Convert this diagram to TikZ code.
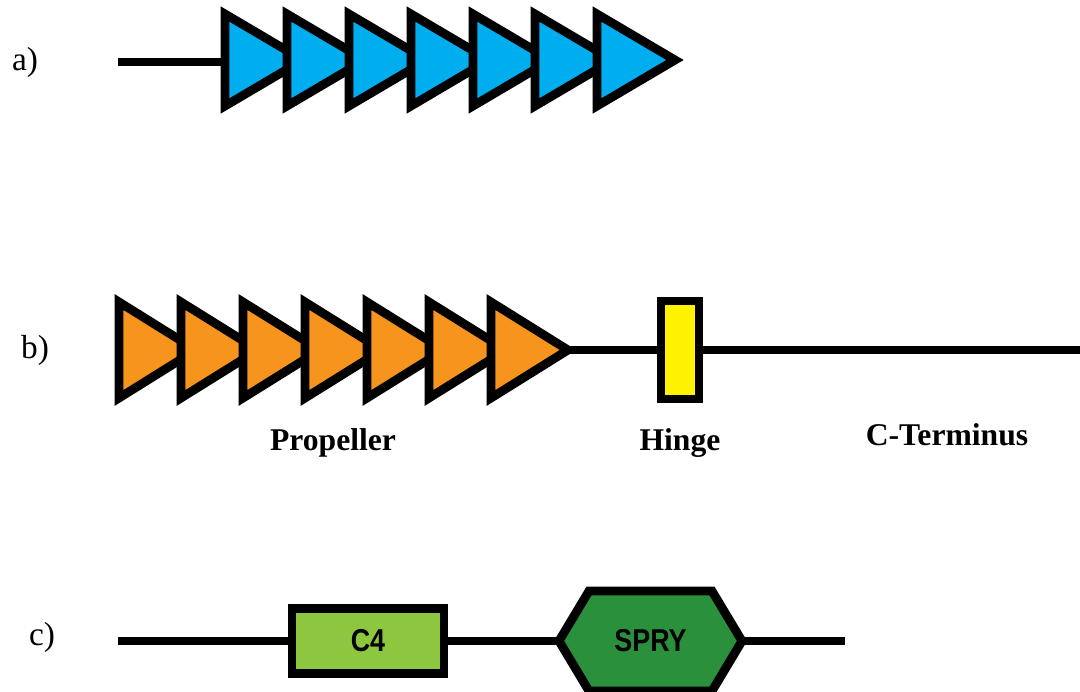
\documentclass[tikz,border=0pt]{standalone}
\usepackage{fontspec}
\setmainfont{Liberation Serif}
\newfontfamily\domfont{Liberation Sans}
\definecolor{bladeblue}{HTML}{00AEEF}
\definecolor{bladeorange}{HTML}{F7941D}
\definecolor{hingeyellow}{HTML}{FFF200}
\definecolor{cfourgreen}{HTML}{8DC63F}
\definecolor{sprygreen}{HTML}{2A903C}
\begin{document}
\begin{tikzpicture}[x=0.02cm,y=-0.02cm,line width=5pt,
	blade/.style={draw=black,line join=miter},
	lbl/.style={font=\fontsize{19}{21}\selectfont},
	part/.style={font=\bfseries\fontsize{18}{20}\selectfont},
	dom/.style={draw,inner sep=0pt,font=\domfont\bfseries\fontsize{18}{20}\selectfont}]
	\useasboundingbox (0,0) rectangle (1080,691);
	% a)
	\node[lbl] (a) at (25,62){a)};
	\coordinate (a0) at (118,62);
	\coordinate (ablade) at (225,62);
	\draw (a0)--(ablade);
	\foreach \x in {225,287,...,597}{
		\draw[blade,fill=bladeblue] (\x,14)--(\x+78,60)--(\x,106)--cycle;
		}
	% b)
	\node[lbl] (b) at (35,350){b)};
	\coordinate (btip) at (568,350);
	\coordinate (bend) at (1080,350);
	\node[dom,fill=hingeyellow,minimum width=0.76cm,minimum height=1.96cm] (hinge) at (680,350){};
	\draw (btip)--(hinge.west);
	\draw (hinge.east)--(bend);
	\foreach \x in {119,181,...,491}{
		\draw[blade,fill=bladeorange] (\x,302)--(\x+77,350)--(\x,398)--cycle;
		}
	\node[part] (prop) at (333,443){Propeller};
	\node[part] (hingelbl) at (680,443){Hinge};
	\node[part] (cterm) at (947,435){C-Terminus};
	% c)
	\node[lbl] (c) at (42,637){c)};
	\coordinate (c0) at (118,641);
	\coordinate (c1) at (845,641);
	\coordinate (spryw) at (559,641);
	\coordinate (sprye) at (742,641);
	\draw (c0)--(sprye)--(c1);
	\node[dom,fill=cfourgreen,minimum width=3.04cm,minimum height=1.3cm] (cfour) at (368,641){\scalebox{0.85}[1]{C4}};
	\draw[blade,fill=sprygreen] (spryw)--(589,591)--(712,591)--(sprye)--(712,691)--(589,691)--cycle;
	\node[dom,draw=none] (spry) at (650.5,641){\scalebox{0.85}[1]{SPRY}};
\end{tikzpicture}
\end{document}
